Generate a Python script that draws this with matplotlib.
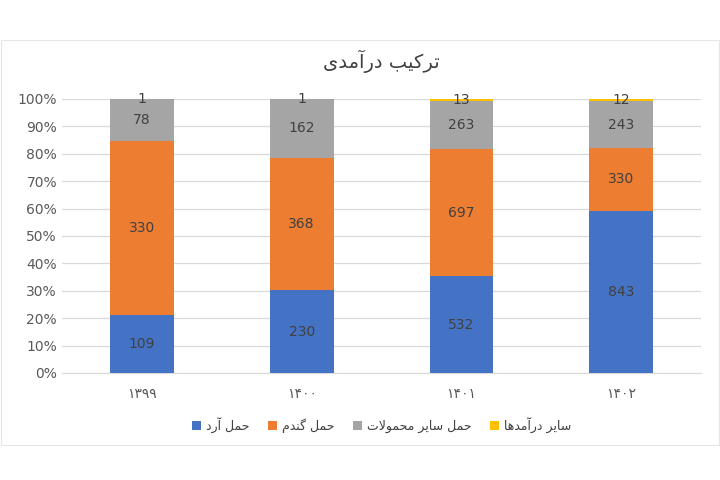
import matplotlib
matplotlib.use("Agg")
import matplotlib.pyplot as plt
import numpy as np
from matplotlib.ticker import PercentFormatter
from matplotlib.patches import Rectangle

# data
years = ['۱۳۹۹', '۱۴۰۰', '۱۴۰۱', '۱۴۰۲']
series_names = ['حمل آرد', 'حمل گندم', 'حمل سایر محمولات', 'سایر درآمدها']
flour = [109, 230, 532, 843]
wheat = [330, 368, 697, 330]
other_cargo = [78, 162, 263, 243]
other_income = [1, 1, 13, 12]
colors = ['#4472C4', '#ED7D31', '#A5A5A5', '#FFC000']
title = 'ترکیب درآمدی'

# matplotlib has no arabic shaping, so do it by hand with presentation forms
FORMS = {
    'ا': ('\uFE8D', '\uFE8E', None, None),
    'آ': ('\uFE81', '\uFE82', None, None),
    'ب': ('\uFE8F', '\uFE90', '\uFE91', '\uFE92'),
    'ت': ('\uFE95', '\uFE96', '\uFE97', '\uFE98'),
    'ح': ('\uFEA1', '\uFEA2', '\uFEA3', '\uFEA4'),
    'د': ('\uFEA9', '\uFEAA', None, None),
    'ر': ('\uFEAD', '\uFEAE', None, None),
    'س': ('\uFEB1', '\uFEB2', '\uFEB3', '\uFEB4'),
    'ل': ('\uFEDD', '\uFEDE', '\uFEDF', '\uFEE0'),
    'م': ('\uFEE1', '\uFEE2', '\uFEE3', '\uFEE4'),
    'ن': ('\uFEE5', '\uFEE6', '\uFEE7', '\uFEE8'),
    'ه': ('\uFEE9', '\uFEEA', '\uFEEB', '\uFEEC'),
    'و': ('\uFEED', '\uFEEE', None, None),
    'ک': ('\uFB8E', '\uFB8F', '\uFB90', '\uFB91'),
    'گ': ('\uFB92', '\uFB93', '\uFB94', '\uFB95'),
    'ی': ('\uFBFC', '\uFBFD', '\uFBFE', '\uFBFF'),
}


def shape(s):
    out = []
    i = 0
    while i < len(s):
        c = s[i]
        if c not in FORMS:
            out.append(c)
            i += 1
            continue
        prev = s[i - 1] if i > 0 else ''
        pj = prev in FORMS and FORMS[prev][2] is not None
        if c == 'ل' and i + 1 < len(s) and s[i + 1] == 'ا':
            out.append('\uFEFC' if pj else '\uFEFB')
            i += 2
            continue
        nxt = s[i + 1] if i + 1 < len(s) else ''
        nj = nxt in FORMS
        iso, fin, ini, med = FORMS[c]
        if pj and nj and med:
            out.append(med)
        elif pj:
            out.append(fin)
        elif nj and ini:
            out.append(ini)
        else:
            out.append(iso)
        i += 1
    return ''.join(out)[::-1]


plt.rcParams['font.family'] = ['DejaVu Sans']

data = np.array([flour, wheat, other_cargo, other_income], dtype=float)
pct = data / data.sum(axis=0) * 100

fig = plt.figure(figsize=(7.2, 4.8), dpi=100)
# faint chart frame
fig.patches.append(Rectangle((0.002, 0.073), 0.996, 0.844, transform=fig.transFigure,
                             fill=False, edgecolor='#E6E6E6', linewidth=0.8))
ax = fig.add_axes([0.086, 0.223, 0.888, 0.571])

x = np.arange(len(years))
bottom = np.zeros(len(years))
for k in range(len(series_names)):
    bars = ax.bar(x, pct[k], 0.4, bottom=bottom, color=colors[k],
                  label=shape(series_names[k]), zorder=3)
    for j in range(len(years)):
        ax.text(x[j], bottom[j] + pct[k][j] / 2, str(int(data[k][j])),
                ha='center', va='center', fontsize=10, color='#404040', zorder=4)
    bottom += pct[k]

ax.set_xlim(-0.5, len(years) - 0.5)
ax.set_ylim(0, 100)
ax.set_yticks(np.arange(0, 101, 10))
ax.yaxis.set_major_formatter(PercentFormatter(decimals=0))
ax.set_xticks(x)
ax.set_xticklabels(years)
ax.grid(axis='y', color='#D9D9D9', linewidth=0.9, zorder=0)
for side in ['top', 'right', 'left']:
    ax.spines[side].set_visible(False)
ax.spines['bottom'].set_color('#D9D9D9')
ax.tick_params(axis='both', length=0, colors='#595959', labelsize=10)
ax.tick_params(axis='x', pad=10)

ax.set_title(shape(title), fontsize=14, color='#404040', pad=22)

ax.legend(loc='upper center', bbox_to_anchor=(0.5, -0.12), ncol=4,
          frameon=False, fontsize=9, handlelength=0.7, handleheight=0.7,
          columnspacing=1.5, handletextpad=0.4, labelcolor='#404040')

fig.savefig('out.png', dpi=100)
